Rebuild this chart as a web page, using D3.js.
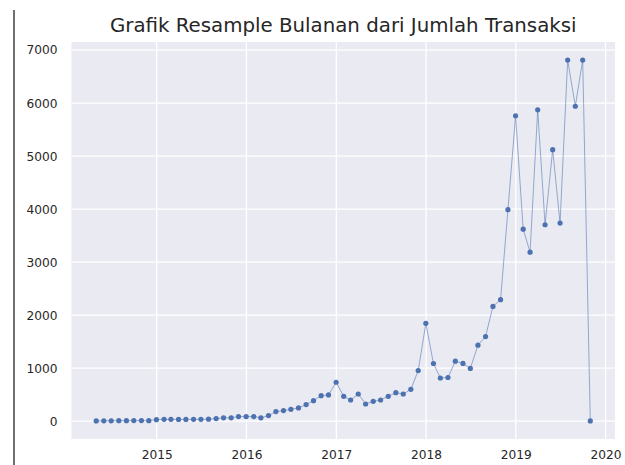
<!doctype html>
<html>
<head>
<meta charset="utf-8">
<script src="https://d3js.org/d3.v7.min.js"></script>
<style>
    body { margin: 0; background: #fff; }
    text { font-family: "DejaVu Sans", sans-serif; fill: #262626; }
</style>
</head>
<body>
<svg width="625" height="465"></svg>
<script>

    // monthly resample (month end), Apr 2014 .. Oct 2019
    var firstMonth = "2014-05-01", endMonth = "2019-12-01";
    var jumlahTransaksi = [
        5, 8, 8, 10, 10, 12, 12, 10, 30,                    // 2014 Apr-Dec
        35, 35, 33, 33, 35, 35, 38, 50, 64, 64, 88, 88,     // 2015
        88, 64, 107, 182, 200, 225, 250, 313, 388, 482, 495, 735,      // 2016
        470, 400, 513, 325, 375, 400, 470, 539, 513, 601, 955, 1846,   // 2017
        1089, 815, 825, 1133, 1090, 996, 1435, 1597, 2166, 2292, 3990, 5761, // 2018
        3622, 3188, 5873, 3706, 5122, 3738, 6812, 5941, 6812, 5   // 2019 Jan-Oct
    ];
    var yTicks = [0, 1000, 2000, 3000, 4000, 5000, 6000, 7000];
    var title = "Grafik Resample Bulanan dari Jumlah Transaksi";

    var parse = d3.utcParse("%Y-%m-%d");
    var dates = d3.utcMonth.range(parse(firstMonth), parse(endMonth))
                  .map(function(d) { return d3.utcDay.offset(d, -1); });
    var data = dates.map(function(d, i) { return {date: d, value: jumlahTransaksi[i]}; });

    var svg = d3.select("svg");
    var plotL = 71.5, plotR = 615, plotT = 42, plotB = 439;

    // matplotlib style 5% margins
    var xExt = d3.extent(data, function(d) { return d.date; }),
        xPad = (xExt[1] - xExt[0]) * 0.05;
    var yExt = d3.extent(data, function(d) { return d.value; }),
        yPad = (yExt[1] - yExt[0]) * 0.05;

    var xScale = d3.scaleUtc()
        .domain([new Date(+xExt[0] - xPad), new Date(+xExt[1] + xPad)])
        .range([plotL, plotR]);
    var yScale = d3.scaleLinear()
        .domain([yExt[0] - yPad, yExt[1] + yPad])
        .range([plotB, plotT]);

    // left border line from the screenshot
    svg.append("line")
       .attr("x1", 14).attr("x2", 14).attr("y1", 10).attr("y2", 465)
       .attr("stroke", "#333").attr("stroke-width", 1.4);

    svg.append("rect")
       .attr("x", plotL).attr("y", plotT)
       .attr("width", plotR - plotL).attr("height", plotB - plotT)
       .attr("fill", "#eaeaf2");

    var xTicks = xScale.ticks(d3.utcYear.every(1));

    svg.append("g")
       .selectAll("line")
       .data(xTicks)
       .enter().append("line")
       .attr("x1", function(d) { return xScale(d); })
       .attr("x2", function(d) { return xScale(d); })
       .attr("y1", plotT).attr("y2", plotB)
       .attr("stroke", "#fff").attr("stroke-width", 1.3);

    svg.append("g")
       .selectAll("line")
       .data(yTicks)
       .enter().append("line")
       .attr("x1", plotL).attr("x2", plotR)
       .attr("y1", function(d) { return yScale(d); })
       .attr("y2", function(d) { return yScale(d); })
       .attr("stroke", "#fff").attr("stroke-width", 1.3);

    var xAxis = svg.append("g")
       .attr("transform", "translate(0," + plotB + ")")
       .call(d3.axisBottom(xScale).tickValues(xTicks).tickFormat(d3.utcFormat("%Y"))
             .tickSize(0).tickPadding(11));
    xAxis.select(".domain").remove();
    xAxis.selectAll("text").attr("font-size", 12.2).attr("fill", "#262626")
         .attr("font-family", "DejaVu Sans, sans-serif");

    var yAxis = svg.append("g")
       .attr("transform", "translate(" + plotL + ",0)")
       .call(d3.axisLeft(yScale).tickValues(yTicks).tickFormat(d3.format("d"))
             .tickSize(0).tickPadding(14));
    yAxis.select(".domain").remove();
    yAxis.selectAll("text").attr("font-size", 12.2).attr("fill", "#262626")
         .attr("font-family", "DejaVu Sans, sans-serif");

    var line = d3.line()
        .x(function(d) { return xScale(d.date); })
        .y(function(d) { return yScale(d.value); });

    svg.append("path")
       .datum(data)
       .attr("d", line)
       .attr("fill", "none")
       .attr("stroke", "#4c72b0")
       .attr("stroke-opacity", 0.7)
       .attr("stroke-width", 0.8);

    svg.append("g")
       .selectAll("circle")
       .data(data)
       .enter().append("circle")
       .attr("cx", function(d) { return xScale(d.date); })
       .attr("cy", function(d) { return yScale(d.value); })
       .attr("r", 2.6)
       .attr("fill", "#4c72b0");

    svg.append("text")
       .attr("x", (plotL + plotR) / 2)
       .attr("y", 32)
       .attr("text-anchor", "middle")
       .attr("font-size", 19.8)
       .text(title);

</script>
</body>
</html>
